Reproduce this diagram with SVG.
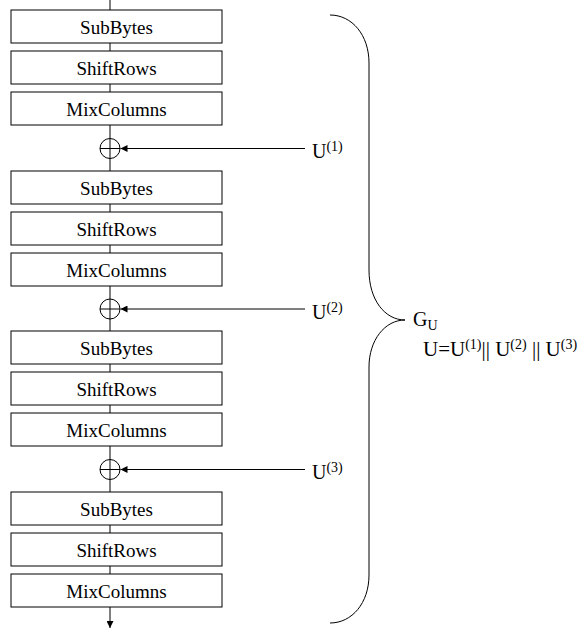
<svg xmlns="http://www.w3.org/2000/svg" width="580" height="632" viewBox="0 0 580 632">
<style>
.box{fill:#fff;stroke:#000;stroke-width:1}
.lbl{font-size:19px;fill:#000;text-anchor:middle}
.t{font-size:20px;fill:#000}
.sup{font-size:14px}
.ln{stroke:#000;stroke-width:1;fill:none}
.xor{fill:#fff;stroke:#000;stroke-width:1}
</style>
<defs>
<marker id="ah" viewBox="0 0 10 10" refX="10" refY="5" markerWidth="7" markerHeight="7" markerUnits="userSpaceOnUse" orient="auto">
<path d="M0,0 L10,5 L0,10 Z" fill="#000"/>
</marker>
</defs>
<g id="connectors">
<line class="ln" x1="110" y1="0" x2="110" y2="10"/>
<line class="ln" x1="110" y1="43" x2="110" y2="51"/>
<line class="ln" x1="110" y1="84" x2="110" y2="92"/>
<line class="ln" x1="110" y1="125" x2="110" y2="171"/>
<line class="ln" x1="110" y1="204" x2="110" y2="212"/>
<line class="ln" x1="110" y1="245" x2="110" y2="253"/>
<line class="ln" x1="110" y1="286" x2="110" y2="331"/>
<line class="ln" x1="110" y1="364" x2="110" y2="372"/>
<line class="ln" x1="110" y1="405" x2="110" y2="413"/>
<line class="ln" x1="110" y1="446" x2="110" y2="492"/>
<line class="ln" x1="110" y1="525" x2="110" y2="533"/>
<line class="ln" x1="110" y1="566" x2="110" y2="574"/>
<line class="ln" x1="110" y1="607" x2="110" y2="628" marker-end="url(#ah)"/>
<line class="ln" x1="305" y1="148.5" x2="120.5" y2="148.5" marker-end="url(#ah)"/>
<line class="ln" x1="305" y1="309" x2="120.5" y2="309" marker-end="url(#ah)"/>
<line class="ln" x1="305" y1="469.5" x2="120.5" y2="469.5" marker-end="url(#ah)"/>
</g>
<g font-family="Liberation Serif, Times New Roman, serif">
<g id="sb1"><rect class="box" x="11" y="10" width="211" height="33"/><text class="lbl" x="116.5" y="34">SubBytes</text></g>
<g id="sr1"><rect class="box" x="11" y="51" width="211" height="33"/><text class="lbl" x="116.5" y="75">ShiftRows</text></g>
<g id="mc1"><rect class="box" x="11" y="92" width="211" height="33"/><text class="lbl" x="116.5" y="116">MixColumns</text></g>
<g id="x1"><circle class="xor" cx="110" cy="148.5" r="10"/><path class="ln" d="M100,148.5 H120 M110,138.5 V158.5"/></g>
<g id="sb2"><rect class="box" x="11" y="171" width="211" height="33"/><text class="lbl" x="116.5" y="195">SubBytes</text></g>
<g id="sr2"><rect class="box" x="11" y="212" width="211" height="33"/><text class="lbl" x="116.5" y="236">ShiftRows</text></g>
<g id="mc2"><rect class="box" x="11" y="253" width="211" height="33"/><text class="lbl" x="116.5" y="277">MixColumns</text></g>
<g id="x2"><circle class="xor" cx="110" cy="309" r="10"/><path class="ln" d="M100,309 H120 M110,299 V319"/></g>
<g id="sb3"><rect class="box" x="11" y="331" width="211" height="33"/><text class="lbl" x="116.5" y="355">SubBytes</text></g>
<g id="sr3"><rect class="box" x="11" y="372" width="211" height="33"/><text class="lbl" x="116.5" y="396">ShiftRows</text></g>
<g id="mc3"><rect class="box" x="11" y="413" width="211" height="33"/><text class="lbl" x="116.5" y="437">MixColumns</text></g>
<g id="x3"><circle class="xor" cx="110" cy="469.5" r="10"/><path class="ln" d="M100,469.5 H120 M110,459.5 V479.5"/></g>
<g id="sb4"><rect class="box" x="11" y="492" width="211" height="33"/><text class="lbl" x="116.5" y="516">SubBytes</text></g>
<g id="sr4"><rect class="box" x="11" y="533" width="211" height="33"/><text class="lbl" x="116.5" y="557">ShiftRows</text></g>
<g id="mc4"><rect class="box" x="11" y="574" width="211" height="33"/><text class="lbl" x="116.5" y="598">MixColumns</text></g>
<g id="u1"><text class="t" x="312" y="158">U<tspan class="sup" dy="-7">(1)</tspan></text></g>
<g id="u2"><text class="t" x="312" y="318.5">U<tspan class="sup" dy="-7">(2)</tspan></text></g>
<g id="u3"><text class="t" x="312" y="479">U<tspan class="sup" dy="-7">(3)</tspan></text></g>
<g id="brace"><path class="ln" d="M330,15 C352,15 369,35 369,63 L369,270 C369,300 385,320 405,320 C385,320 369,340 369,367 L369,575 C369,603 352,623 330,623"/></g>
<g id="gu"><text class="t" x="413" y="326">G<tspan class="sup" dy="4">U</tspan></text>
<text class="t" x="423" y="356" style="font-size:21px">U=U<tspan class="sup" dy="-7">(1)</tspan><tspan dy="7">|| U</tspan><tspan class="sup" dy="-7">(2)</tspan><tspan dy="7"> || U</tspan><tspan class="sup" dy="-7">(3)</tspan></text></g>
</g>
</svg>
